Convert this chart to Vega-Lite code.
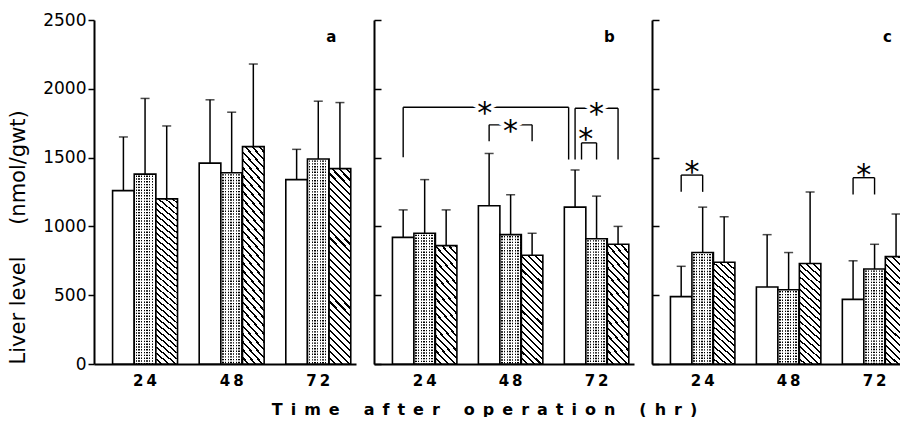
{
  "$schema": "https://vega.github.io/schema/vega-lite/v6.json",
  "background": "white",
  "padding": {"left": 7, "top": 11, "right": -12, "bottom": 0},
  "config": {"view": {"stroke": null}, "axis": {"grid": false}},
  "datasets": {
    "bars": [
      {"panel": "a", "time": 24, "group": "I", "slot": "24I", "mean": 1260, "upper": 1650},
      {"panel": "a", "time": 24, "group": "II", "slot": "24II", "mean": 1380, "upper": 1930},
      {"panel": "a", "time": 24, "group": "III", "slot": "24III", "mean": 1200, "upper": 1730},
      {"panel": "a", "time": 48, "group": "I", "slot": "48I", "mean": 1460, "upper": 1920},
      {"panel": "a", "time": 48, "group": "II", "slot": "48II", "mean": 1390, "upper": 1830},
      {"panel": "a", "time": 48, "group": "III", "slot": "48III", "mean": 1580, "upper": 2180},
      {"panel": "a", "time": 72, "group": "I", "slot": "72I", "mean": 1340, "upper": 1560},
      {"panel": "a", "time": 72, "group": "II", "slot": "72II", "mean": 1490, "upper": 1910},
      {"panel": "a", "time": 72, "group": "III", "slot": "72III", "mean": 1420, "upper": 1900},
      {"panel": "b", "time": 24, "group": "I", "slot": "24I", "mean": 920, "upper": 1120},
      {"panel": "b", "time": 24, "group": "II", "slot": "24II", "mean": 950, "upper": 1340},
      {"panel": "b", "time": 24, "group": "III", "slot": "24III", "mean": 860, "upper": 1120},
      {"panel": "b", "time": 48, "group": "I", "slot": "48I", "mean": 1150, "upper": 1530},
      {"panel": "b", "time": 48, "group": "II", "slot": "48II", "mean": 940, "upper": 1230},
      {"panel": "b", "time": 48, "group": "III", "slot": "48III", "mean": 790, "upper": 950},
      {"panel": "b", "time": 72, "group": "I", "slot": "72I", "mean": 1140, "upper": 1410},
      {"panel": "b", "time": 72, "group": "II", "slot": "72II", "mean": 910, "upper": 1220},
      {"panel": "b", "time": 72, "group": "III", "slot": "72III", "mean": 870, "upper": 1000},
      {"panel": "c", "time": 24, "group": "I", "slot": "24I", "mean": 490, "upper": 710},
      {"panel": "c", "time": 24, "group": "II", "slot": "24II", "mean": 810, "upper": 1140},
      {"panel": "c", "time": 24, "group": "III", "slot": "24III", "mean": 740, "upper": 1070},
      {"panel": "c", "time": 48, "group": "I", "slot": "48I", "mean": 560, "upper": 940},
      {"panel": "c", "time": 48, "group": "II", "slot": "48II", "mean": 540, "upper": 810},
      {"panel": "c", "time": 48, "group": "III", "slot": "48III", "mean": 730, "upper": 1250},
      {"panel": "c", "time": 72, "group": "I", "slot": "72I", "mean": 470, "upper": 750},
      {"panel": "c", "time": 72, "group": "II", "slot": "72II", "mean": 690, "upper": 870},
      {"panel": "c", "time": 72, "group": "III", "slot": "72III", "mean": 780, "upper": 1090}
    ],
    "brackets": [
      {"panel": "b", "kind": "span", "from": "24I", "to": "72I", "level": 1866, "footL": 1503, "footR": 1486, "starAt": 1866},
      {"panel": "b", "kind": "skip", "from": "48I", "to": "48III", "level": 1738, "footL": 1619, "footR": 1619, "starAt": 1738},
      {"panel": "b", "kind": "skip", "from": "72I", "to": "72III", "level": 1859, "footL": 1486, "footR": 1486, "starAt": 1859},
      {"panel": "b", "kind": "nested", "from": "72I", "to": "72II", "level": 1607, "footL": 1486, "footR": 1486, "starAt": 1680},
      {"panel": "c", "kind": "adjacent", "from": "24I", "to": "24II", "level": 1373, "footL": 1251, "footR": 1251, "starAt": 1439},
      {"panel": "c", "kind": "adjacent", "from": "72I", "to": "72II", "level": 1354, "footL": 1232, "footR": 1232, "starAt": 1414}
    ],
    "panels": [{"panel": "a"}, {"panel": "b"}, {"panel": "c"}]
  },
  "spacing": 18,
  "bounds": "flush",
  "hconcat": [
    {
      "width": 262,
      "height": 344,
      "layer": [
        {
          "data": {"name": "bars"},
          "transform": [{"filter": "datum.panel === 'a' && datum.group === 'I'"}],
          "mark": {"type": "bar", "stroke": "#000", "strokeWidth": 1.6, "fill": "#fff"},
          "encoding": {
            "x": {"field": "slot", "type": "nominal",
              "scale": {"type": "band", "domain": ["24I", "24II", "24III", "gap1", "48I", "48II", "48III", "gap2", "72I", "72II", "72III"], "paddingInner": 0, "paddingOuter": 0.55, "align": 0.78},
              "axis": {"title": null, "ticks": false, "domainColor": "#000", "domainWidth": 2, "labelAngle": 0, "labelOverlap": false,
                "labelExpr": "datum.value === '24II' ? '2\u20094' : datum.value === '48II' ? '4\u20098' : datum.value === '72II' ? '7\u20092' : ''",
                "labelFont": "DejaVu Sans", "labelFontSize": 15, "labelFontWeight": "bold", "labelColor": "#000", "labelPadding": 9}},
            "y": {"field": "mean", "type": "quantitative",
              "scale": {"domain": [0, 2500], "nice": false},
              "axis": {"values": [0, 500, 1000, 1500, 2000, 2500], "format": "d", "domainColor": "#000", "domainWidth": 2, "tickColor": "#000", "tickWidth": 1.5, "tickSize": 6,
                "labelFont": "DejaVu Sans", "labelFontSize": 17, "labelColor": "#000", "labelPadding": 2,
                "title": "Liver level\u2003\u2002(nmol/gwt)", "titleFont": "DejaVu Sans", "titleFontSize": 21, "titleFontWeight": "normal", "titleColor": "#000", "titleAnchor": "start", "titlePadding": 14}}
          }
        },
        {
          "data": {"name": "bars"},
          "transform": [{"filter": "datum.panel === 'a' && datum.group === 'II'"}],
          "mark": {"type": "bar", "strokeWidth": 0,
            "fill": {"gradient": "linear", "x1": 0, "y1": 0, "x2": 1, "y2": 0, "stops": [
              {"offset": 0, "color": "#fff"}, {"offset": 0.0625, "color": "#fff"}, {"offset": 0.0625, "color": "#000"}, {"offset": 0.125, "color": "#000"},
              {"offset": 0.125, "color": "#fff"}, {"offset": 0.1875, "color": "#fff"}, {"offset": 0.1875, "color": "#000"}, {"offset": 0.25, "color": "#000"},
              {"offset": 0.25, "color": "#fff"}, {"offset": 0.3125, "color": "#fff"}, {"offset": 0.3125, "color": "#000"}, {"offset": 0.375, "color": "#000"},
              {"offset": 0.375, "color": "#fff"}, {"offset": 0.4375, "color": "#fff"}, {"offset": 0.4375, "color": "#000"}, {"offset": 0.5, "color": "#000"},
              {"offset": 0.5, "color": "#fff"}, {"offset": 0.5625, "color": "#fff"}, {"offset": 0.5625, "color": "#000"}, {"offset": 0.625, "color": "#000"},
              {"offset": 0.625, "color": "#fff"}, {"offset": 0.6875, "color": "#fff"}, {"offset": 0.6875, "color": "#000"}, {"offset": 0.75, "color": "#000"},
              {"offset": 0.75, "color": "#fff"}, {"offset": 0.8125, "color": "#fff"}, {"offset": 0.8125, "color": "#000"}, {"offset": 0.875, "color": "#000"},
              {"offset": 0.875, "color": "#fff"}, {"offset": 0.9375, "color": "#fff"}, {"offset": 0.9375, "color": "#000"}, {"offset": 1, "color": "#000"}
            ]}},
          "encoding": {
            "x": {"field": "slot", "type": "nominal"},
            "y": {"field": "mean", "type": "quantitative"}
          }
        },
        {
          "data": {"name": "bars"},
          "transform": [{"filter": "datum.panel === 'a' && datum.group === 'II'"}],
          "mark": {"type": "rule", "stroke": "#fff", "strokeWidth": 19, "strokeDash": [1.4, 1.4]},
          "encoding": {
            "x": {"field": "slot", "type": "nominal", "bandPosition": 0.5},
            "y": {"field": "mean", "type": "quantitative"},
            "y2": {"datum": 0}
          }
        },
        {
          "data": {"name": "bars"},
          "transform": [{"filter": "datum.panel === 'a' && datum.group === 'II'"}],
          "mark": {"type": "bar", "stroke": "#000", "strokeWidth": 1.6, "fillOpacity": 0},
          "encoding": {
            "x": {"field": "slot", "type": "nominal"},
            "y": {"field": "mean", "type": "quantitative"}
          }
        },
        {
          "data": {"name": "bars"},
          "transform": [{"filter": "datum.panel === 'a' && datum.group === 'III'"}],
          "mark": {"type": "bar", "stroke": "#000", "strokeWidth": 1.6,
            "fill": {"gradient": "linear", "x1": 0, "y1": 1, "x2": 0.129, "y2": -0.15, "stops": [
              {"offset": 0, "color": "#fff"}, {"offset": 0.021875, "color": "#fff"}, {"offset": 0.021875, "color": "#000"}, {"offset": 0.03125, "color": "#000"},
              {"offset": 0.03125, "color": "#fff"}, {"offset": 0.053125, "color": "#fff"}, {"offset": 0.053125, "color": "#000"}, {"offset": 0.0625, "color": "#000"},
              {"offset": 0.0625, "color": "#fff"}, {"offset": 0.084375, "color": "#fff"}, {"offset": 0.084375, "color": "#000"}, {"offset": 0.09375, "color": "#000"},
              {"offset": 0.09375, "color": "#fff"}, {"offset": 0.115625, "color": "#fff"}, {"offset": 0.115625, "color": "#000"}, {"offset": 0.125, "color": "#000"},
              {"offset": 0.125, "color": "#fff"}, {"offset": 0.146875, "color": "#fff"}, {"offset": 0.146875, "color": "#000"}, {"offset": 0.15625, "color": "#000"},
              {"offset": 0.15625, "color": "#fff"}, {"offset": 0.178125, "color": "#fff"}, {"offset": 0.178125, "color": "#000"}, {"offset": 0.1875, "color": "#000"},
              {"offset": 0.1875, "color": "#fff"}, {"offset": 0.209375, "color": "#fff"}, {"offset": 0.209375, "color": "#000"}, {"offset": 0.21875, "color": "#000"},
              {"offset": 0.21875, "color": "#fff"}, {"offset": 0.240625, "color": "#fff"}, {"offset": 0.240625, "color": "#000"}, {"offset": 0.25, "color": "#000"},
              {"offset": 0.25, "color": "#fff"}, {"offset": 0.271875, "color": "#fff"}, {"offset": 0.271875, "color": "#000"}, {"offset": 0.28125, "color": "#000"},
              {"offset": 0.28125, "color": "#fff"}, {"offset": 0.303125, "color": "#fff"}, {"offset": 0.303125, "color": "#000"}, {"offset": 0.3125, "color": "#000"},
              {"offset": 0.3125, "color": "#fff"}, {"offset": 0.334375, "color": "#fff"}, {"offset": 0.334375, "color": "#000"}, {"offset": 0.34375, "color": "#000"},
              {"offset": 0.34375, "color": "#fff"}, {"offset": 0.365625, "color": "#fff"}, {"offset": 0.365625, "color": "#000"}, {"offset": 0.375, "color": "#000"},
              {"offset": 0.375, "color": "#fff"}, {"offset": 0.396875, "color": "#fff"}, {"offset": 0.396875, "color": "#000"}, {"offset": 0.40625, "color": "#000"},
              {"offset": 0.40625, "color": "#fff"}, {"offset": 0.428125, "color": "#fff"}, {"offset": 0.428125, "color": "#000"}, {"offset": 0.4375, "color": "#000"},
              {"offset": 0.4375, "color": "#fff"}, {"offset": 0.459375, "color": "#fff"}, {"offset": 0.459375, "color": "#000"}, {"offset": 0.46875, "color": "#000"},
              {"offset": 0.46875, "color": "#fff"}, {"offset": 0.490625, "color": "#fff"}, {"offset": 0.490625, "color": "#000"}, {"offset": 0.5, "color": "#000"},
              {"offset": 0.5, "color": "#fff"}, {"offset": 0.521875, "color": "#fff"}, {"offset": 0.521875, "color": "#000"}, {"offset": 0.53125, "color": "#000"},
              {"offset": 0.53125, "color": "#fff"}, {"offset": 0.553125, "color": "#fff"}, {"offset": 0.553125, "color": "#000"}, {"offset": 0.5625, "color": "#000"},
              {"offset": 0.5625, "color": "#fff"}, {"offset": 0.584375, "color": "#fff"}, {"offset": 0.584375, "color": "#000"}, {"offset": 0.59375, "color": "#000"},
              {"offset": 0.59375, "color": "#fff"}, {"offset": 0.615625, "color": "#fff"}, {"offset": 0.615625, "color": "#000"}, {"offset": 0.625, "color": "#000"},
              {"offset": 0.625, "color": "#fff"}, {"offset": 0.646875, "color": "#fff"}, {"offset": 0.646875, "color": "#000"}, {"offset": 0.65625, "color": "#000"},
              {"offset": 0.65625, "color": "#fff"}, {"offset": 0.678125, "color": "#fff"}, {"offset": 0.678125, "color": "#000"}, {"offset": 0.6875, "color": "#000"},
              {"offset": 0.6875, "color": "#fff"}, {"offset": 0.709375, "color": "#fff"}, {"offset": 0.709375, "color": "#000"}, {"offset": 0.71875, "color": "#000"},
              {"offset": 0.71875, "color": "#fff"}, {"offset": 0.740625, "color": "#fff"}, {"offset": 0.740625, "color": "#000"}, {"offset": 0.75, "color": "#000"},
              {"offset": 0.75, "color": "#fff"}, {"offset": 0.771875, "color": "#fff"}, {"offset": 0.771875, "color": "#000"}, {"offset": 0.78125, "color": "#000"},
              {"offset": 0.78125, "color": "#fff"}, {"offset": 0.803125, "color": "#fff"}, {"offset": 0.803125, "color": "#000"}, {"offset": 0.8125, "color": "#000"},
              {"offset": 0.8125, "color": "#fff"}, {"offset": 0.834375, "color": "#fff"}, {"offset": 0.834375, "color": "#000"}, {"offset": 0.84375, "color": "#000"},
              {"offset": 0.84375, "color": "#fff"}, {"offset": 0.865625, "color": "#fff"}, {"offset": 0.865625, "color": "#000"}, {"offset": 0.875, "color": "#000"},
              {"offset": 0.875, "color": "#fff"}, {"offset": 0.896875, "color": "#fff"}, {"offset": 0.896875, "color": "#000"}, {"offset": 0.90625, "color": "#000"},
              {"offset": 0.90625, "color": "#fff"}, {"offset": 0.928125, "color": "#fff"}, {"offset": 0.928125, "color": "#000"}, {"offset": 0.9375, "color": "#000"},
              {"offset": 0.9375, "color": "#fff"}, {"offset": 0.959375, "color": "#fff"}, {"offset": 0.959375, "color": "#000"}, {"offset": 0.96875, "color": "#000"},
              {"offset": 0.96875, "color": "#fff"}, {"offset": 0.990625, "color": "#fff"}, {"offset": 0.990625, "color": "#000"}, {"offset": 1, "color": "#000"}
            ]}},
          "encoding": {
            "x": {"field": "slot", "type": "nominal"},
            "y": {"field": "mean", "type": "quantitative"}
          }
        },
        {
          "data": {"name": "bars"},
          "transform": [{"filter": "datum.panel === 'a'"}],
          "mark": {"type": "rule", "stroke": "#000", "strokeWidth": 1.5},
          "encoding": {
            "x": {"field": "slot", "type": "nominal", "bandPosition": 0.5},
            "y": {"field": "mean", "type": "quantitative"},
            "y2": {"field": "upper"}
          }
        },
        {
          "data": {"name": "bars"},
          "transform": [{"filter": "datum.panel === 'a'"}],
          "mark": {"type": "tick", "orient": "horizontal", "color": "#000", "size": 9, "thickness": 1.5},
          "encoding": {
            "x": {"field": "slot", "type": "nominal"},
            "y": {"field": "upper", "type": "quantitative"}
          }
        },
        {
          "data": {"name": "panels"},
          "transform": [{"filter": "datum.panel === 'a'"}],
          "mark": {"type": "text", "font": "DejaVu Sans", "fontSize": 15, "fontWeight": "bold", "color": "#000", "baseline": "middle"},
          "encoding": {
            "x": {"datum": "72III", "type": "nominal", "bandPosition": 0.1},
            "y": {"datum": 2376, "type": "quantitative"},
            "text": {"field": "panel"}
          }
        }
      ]
    },
    {
      "width": 260,
      "height": 344,
      "layer": [
        {
          "data": {"name": "bars"},
          "transform": [{"filter": "datum.panel === 'b' && datum.group === 'I'"}],
          "mark": {"type": "bar", "stroke": "#000", "strokeWidth": 1.6, "fill": "#fff"},
          "encoding": {
            "x": {"field": "slot", "type": "nominal",
              "scale": {"type": "band", "domain": ["24I", "24II", "24III", "gap1", "48I", "48II", "48III", "gap2", "72I", "72II", "72III"], "paddingInner": 0, "paddingOuter": 0.55, "align": 0.78},
              "axis": {"ticks": false, "domainColor": "#000", "domainWidth": 2, "labelAngle": 0, "labelOverlap": false,
                "labelExpr": "datum.value === '24II' ? '2\u20094' : datum.value === '48II' ? '4\u20098' : datum.value === '72II' ? '7\u20092' : ''",
                "labelFont": "DejaVu Sans", "labelFontSize": 15, "labelFontWeight": "bold", "labelColor": "#000", "labelPadding": 9,
                "title": "T\u2002i\u2002m\u2002e\u2003\u2002a\u2002f\u2002t\u2002e\u2002r\u2003\u2002o\u2002p\u2002e\u2002r\u2002a\u2002t\u2002i\u2002o\u2002n\u2003\u2002(\u2002h\u2002r\u2002)",
                "titleFont": "DejaVu Sans", "titleFontSize": 16, "titleFontWeight": "bold", "titleColor": "#000",
                "titleX": 110, "titleY": 45, "titleAlign": "center", "titleBaseline": "middle"}},
            "y": {"field": "mean", "type": "quantitative",
              "scale": {"domain": [0, 2500], "nice": false},
              "axis": {"values": [0, 500, 1000, 1500, 2000, 2500], "labels": false, "title": null, "domainColor": "#000", "domainWidth": 2, "tickColor": "#000", "tickWidth": 1.5, "tickSize": -7}}
          }
        },
        {
          "data": {"name": "bars"},
          "transform": [{"filter": "datum.panel === 'b' && datum.group === 'II'"}],
          "mark": {"type": "bar", "strokeWidth": 0,
            "fill": {"gradient": "linear", "x1": 0, "y1": 0, "x2": 1, "y2": 0, "stops": [
              {"offset": 0, "color": "#fff"}, {"offset": 0.0625, "color": "#fff"}, {"offset": 0.0625, "color": "#000"}, {"offset": 0.125, "color": "#000"},
              {"offset": 0.125, "color": "#fff"}, {"offset": 0.1875, "color": "#fff"}, {"offset": 0.1875, "color": "#000"}, {"offset": 0.25, "color": "#000"},
              {"offset": 0.25, "color": "#fff"}, {"offset": 0.3125, "color": "#fff"}, {"offset": 0.3125, "color": "#000"}, {"offset": 0.375, "color": "#000"},
              {"offset": 0.375, "color": "#fff"}, {"offset": 0.4375, "color": "#fff"}, {"offset": 0.4375, "color": "#000"}, {"offset": 0.5, "color": "#000"},
              {"offset": 0.5, "color": "#fff"}, {"offset": 0.5625, "color": "#fff"}, {"offset": 0.5625, "color": "#000"}, {"offset": 0.625, "color": "#000"},
              {"offset": 0.625, "color": "#fff"}, {"offset": 0.6875, "color": "#fff"}, {"offset": 0.6875, "color": "#000"}, {"offset": 0.75, "color": "#000"},
              {"offset": 0.75, "color": "#fff"}, {"offset": 0.8125, "color": "#fff"}, {"offset": 0.8125, "color": "#000"}, {"offset": 0.875, "color": "#000"},
              {"offset": 0.875, "color": "#fff"}, {"offset": 0.9375, "color": "#fff"}, {"offset": 0.9375, "color": "#000"}, {"offset": 1, "color": "#000"}
            ]}},
          "encoding": {
            "x": {"field": "slot", "type": "nominal"},
            "y": {"field": "mean", "type": "quantitative"}
          }
        },
        {
          "data": {"name": "bars"},
          "transform": [{"filter": "datum.panel === 'b' && datum.group === 'II'"}],
          "mark": {"type": "rule", "stroke": "#fff", "strokeWidth": 19, "strokeDash": [1.4, 1.4]},
          "encoding": {
            "x": {"field": "slot", "type": "nominal", "bandPosition": 0.5},
            "y": {"field": "mean", "type": "quantitative"},
            "y2": {"datum": 0}
          }
        },
        {
          "data": {"name": "bars"},
          "transform": [{"filter": "datum.panel === 'b' && datum.group === 'II'"}],
          "mark": {"type": "bar", "stroke": "#000", "strokeWidth": 1.6, "fillOpacity": 0},
          "encoding": {
            "x": {"field": "slot", "type": "nominal"},
            "y": {"field": "mean", "type": "quantitative"}
          }
        },
        {
          "data": {"name": "bars"},
          "transform": [{"filter": "datum.panel === 'b' && datum.group === 'III'"}],
          "mark": {"type": "bar", "stroke": "#000", "strokeWidth": 1.6,
            "fill": {"gradient": "linear", "x1": 0, "y1": 1, "x2": 0.225, "y2": -0.15, "stops": [
              {"offset": 0, "color": "#fff"}, {"offset": 0.03684, "color": "#fff"}, {"offset": 0.03684, "color": "#000"}, {"offset": 0.05263, "color": "#000"},
              {"offset": 0.05263, "color": "#fff"}, {"offset": 0.08947, "color": "#fff"}, {"offset": 0.08947, "color": "#000"}, {"offset": 0.10526, "color": "#000"},
              {"offset": 0.10526, "color": "#fff"}, {"offset": 0.14211, "color": "#fff"}, {"offset": 0.14211, "color": "#000"}, {"offset": 0.15789, "color": "#000"},
              {"offset": 0.15789, "color": "#fff"}, {"offset": 0.19474, "color": "#fff"}, {"offset": 0.19474, "color": "#000"}, {"offset": 0.21053, "color": "#000"},
              {"offset": 0.21053, "color": "#fff"}, {"offset": 0.24737, "color": "#fff"}, {"offset": 0.24737, "color": "#000"}, {"offset": 0.26316, "color": "#000"},
              {"offset": 0.26316, "color": "#fff"}, {"offset": 0.3, "color": "#fff"}, {"offset": 0.3, "color": "#000"}, {"offset": 0.31579, "color": "#000"},
              {"offset": 0.31579, "color": "#fff"}, {"offset": 0.35263, "color": "#fff"}, {"offset": 0.35263, "color": "#000"}, {"offset": 0.36842, "color": "#000"},
              {"offset": 0.36842, "color": "#fff"}, {"offset": 0.40526, "color": "#fff"}, {"offset": 0.40526, "color": "#000"}, {"offset": 0.42105, "color": "#000"},
              {"offset": 0.42105, "color": "#fff"}, {"offset": 0.45789, "color": "#fff"}, {"offset": 0.45789, "color": "#000"}, {"offset": 0.47368, "color": "#000"},
              {"offset": 0.47368, "color": "#fff"}, {"offset": 0.51053, "color": "#fff"}, {"offset": 0.51053, "color": "#000"}, {"offset": 0.52632, "color": "#000"},
              {"offset": 0.52632, "color": "#fff"}, {"offset": 0.56316, "color": "#fff"}, {"offset": 0.56316, "color": "#000"}, {"offset": 0.57895, "color": "#000"},
              {"offset": 0.57895, "color": "#fff"}, {"offset": 0.61579, "color": "#fff"}, {"offset": 0.61579, "color": "#000"}, {"offset": 0.63158, "color": "#000"},
              {"offset": 0.63158, "color": "#fff"}, {"offset": 0.66842, "color": "#fff"}, {"offset": 0.66842, "color": "#000"}, {"offset": 0.68421, "color": "#000"},
              {"offset": 0.68421, "color": "#fff"}, {"offset": 0.72105, "color": "#fff"}, {"offset": 0.72105, "color": "#000"}, {"offset": 0.73684, "color": "#000"},
              {"offset": 0.73684, "color": "#fff"}, {"offset": 0.77368, "color": "#fff"}, {"offset": 0.77368, "color": "#000"}, {"offset": 0.78947, "color": "#000"},
              {"offset": 0.78947, "color": "#fff"}, {"offset": 0.82632, "color": "#fff"}, {"offset": 0.82632, "color": "#000"}, {"offset": 0.84211, "color": "#000"},
              {"offset": 0.84211, "color": "#fff"}, {"offset": 0.87895, "color": "#fff"}, {"offset": 0.87895, "color": "#000"}, {"offset": 0.89474, "color": "#000"},
              {"offset": 0.89474, "color": "#fff"}, {"offset": 0.93158, "color": "#fff"}, {"offset": 0.93158, "color": "#000"}, {"offset": 0.94737, "color": "#000"},
              {"offset": 0.94737, "color": "#fff"}, {"offset": 0.98421, "color": "#fff"}, {"offset": 0.98421, "color": "#000"}, {"offset": 1, "color": "#000"}
            ]}},
          "encoding": {
            "x": {"field": "slot", "type": "nominal"},
            "y": {"field": "mean", "type": "quantitative"}
          }
        },
        {
          "data": {"name": "bars"},
          "transform": [{"filter": "datum.panel === 'b'"}],
          "mark": {"type": "rule", "stroke": "#000", "strokeWidth": 1.5},
          "encoding": {
            "x": {"field": "slot", "type": "nominal", "bandPosition": 0.5},
            "y": {"field": "mean", "type": "quantitative"},
            "y2": {"field": "upper"}
          }
        },
        {
          "data": {"name": "bars"},
          "transform": [{"filter": "datum.panel === 'b'"}],
          "mark": {"type": "tick", "orient": "horizontal", "color": "#000", "size": 9, "thickness": 1.5},
          "encoding": {
            "x": {"field": "slot", "type": "nominal"},
            "y": {"field": "upper", "type": "quantitative"}
          }
        },
        {
          "data": {"name": "brackets"},
          "transform": [{"filter": "datum.panel === 'b' && datum.kind === 'skip'"}],
          "mark": {"type": "rule", "stroke": "#000", "strokeWidth": 1.4},
          "encoding": {
            "x": {"field": "from", "type": "nominal", "bandPosition": 0.5},
            "x2": {"field": "to", "bandPosition": 0.5},
            "y": {"field": "level", "type": "quantitative"}
          }
        },
        {
          "data": {"name": "brackets"},
          "transform": [{"filter": "datum.panel === 'b' && datum.kind === 'span'"}],
          "mark": {"type": "rule", "stroke": "#000", "strokeWidth": 1.4},
          "encoding": {
            "x": {"field": "from", "type": "nominal", "bandPosition": 0.5},
            "x2": {"field": "to", "bandPosition": 0.2},
            "y": {"field": "level", "type": "quantitative"}
          }
        },
        {
          "data": {"name": "brackets"},
          "transform": [{"filter": "datum.panel === 'b' && datum.kind === 'nested'"}],
          "mark": {"type": "rule", "stroke": "#000", "strokeWidth": 1.4},
          "encoding": {
            "x": {"field": "from", "type": "nominal", "bandPosition": 0.8},
            "x2": {"field": "to", "bandPosition": 0.5},
            "y": {"field": "level", "type": "quantitative"}
          }
        },
        {
          "data": {"name": "brackets"},
          "transform": [{"filter": "datum.panel === 'b' && datum.kind !== 'nested'"}],
          "mark": {"type": "rule", "stroke": "#000", "strokeWidth": 1.4},
          "encoding": {
            "x": {"field": "from", "type": "nominal", "bandPosition": 0.5},
            "y": {"field": "level", "type": "quantitative"},
            "y2": {"field": "footL"}
          }
        },
        {
          "data": {"name": "brackets"},
          "transform": [{"filter": "datum.panel === 'b' && datum.kind === 'nested'"}],
          "mark": {"type": "rule", "stroke": "#000", "strokeWidth": 1.4},
          "encoding": {
            "x": {"field": "from", "type": "nominal", "bandPosition": 0.8},
            "y": {"field": "level", "type": "quantitative"},
            "y2": {"field": "footL"}
          }
        },
        {
          "data": {"name": "brackets"},
          "transform": [{"filter": "datum.panel === 'b' && datum.kind !== 'span'"}],
          "mark": {"type": "rule", "stroke": "#000", "strokeWidth": 1.4},
          "encoding": {
            "x": {"field": "to", "type": "nominal", "bandPosition": 0.5},
            "y": {"field": "level", "type": "quantitative"},
            "y2": {"field": "footR"}
          }
        },
        {
          "data": {"name": "brackets"},
          "transform": [{"filter": "datum.panel === 'b' && datum.kind === 'span'"}],
          "mark": {"type": "rule", "stroke": "#000", "strokeWidth": 1.4},
          "encoding": {
            "x": {"field": "to", "type": "nominal", "bandPosition": 0.2},
            "y": {"field": "level", "type": "quantitative"},
            "y2": {"field": "footR"}
          }
        },
        {
          "data": {"name": "brackets"},
          "transform": [{"filter": "datum.panel === 'b' && datum.kind === 'skip'"}],
          "mark": {"type": "text", "text": "*", "font": "DejaVu Sans", "fontSize": 30, "baseline": "alphabetic", "dy": 16, "fill": "#fff", "stroke": "#fff", "strokeWidth": 7},
          "encoding": {
            "x": {"field": "from", "type": "nominal", "bandPosition": 1.5},
            "y": {"field": "starAt", "type": "quantitative"}
          }
        },
        {
          "data": {"name": "brackets"},
          "transform": [{"filter": "datum.panel === 'b' && datum.kind === 'span'"}],
          "mark": {"type": "text", "text": "*", "font": "DejaVu Sans", "fontSize": 30, "baseline": "alphabetic", "dy": 16, "fill": "#fff", "stroke": "#fff", "strokeWidth": 7},
          "encoding": {
            "x": {"field": "from", "type": "nominal", "bandPosition": 4.3},
            "y": {"field": "starAt", "type": "quantitative"}
          }
        },
        {
          "data": {"name": "brackets"},
          "transform": [{"filter": "datum.panel === 'b' && datum.kind === 'skip'"}],
          "mark": {"type": "text", "text": "*", "font": "DejaVu Sans", "fontSize": 30, "baseline": "alphabetic", "dy": 16, "color": "#000"},
          "encoding": {
            "x": {"field": "from", "type": "nominal", "bandPosition": 1.5},
            "y": {"field": "starAt", "type": "quantitative"}
          }
        },
        {
          "data": {"name": "brackets"},
          "transform": [{"filter": "datum.panel === 'b' && datum.kind === 'span'"}],
          "mark": {"type": "text", "text": "*", "font": "DejaVu Sans", "fontSize": 30, "baseline": "alphabetic", "dy": 16, "color": "#000"},
          "encoding": {
            "x": {"field": "from", "type": "nominal", "bandPosition": 4.3},
            "y": {"field": "starAt", "type": "quantitative"}
          }
        },
        {
          "data": {"name": "brackets"},
          "transform": [{"filter": "datum.panel === 'b' && datum.kind === 'nested'"}],
          "mark": {"type": "text", "text": "*", "font": "DejaVu Sans", "fontSize": 30, "baseline": "alphabetic", "dy": 16, "color": "#000"},
          "encoding": {
            "x": {"field": "from", "type": "nominal", "bandPosition": 1.0},
            "y": {"field": "starAt", "type": "quantitative"}
          }
        },
        {
          "data": {"name": "panels"},
          "transform": [{"filter": "datum.panel === 'b'"}],
          "mark": {"type": "text", "font": "DejaVu Sans", "fontSize": 15, "fontWeight": "bold", "color": "#000", "baseline": "middle"},
          "encoding": {
            "x": {"datum": "72III", "type": "nominal", "bandPosition": 0.1},
            "y": {"datum": 2376, "type": "quantitative"},
            "text": {"field": "panel"}
          }
        }
      ]
    },
    {
      "width": 260,
      "height": 344,
      "layer": [
        {
          "data": {"name": "bars"},
          "transform": [{"filter": "datum.panel === 'c' && datum.group === 'I'"}],
          "mark": {"type": "bar", "stroke": "#000", "strokeWidth": 1.6, "fill": "#fff"},
          "encoding": {
            "x": {"field": "slot", "type": "nominal",
              "scale": {"type": "band", "domain": ["24I", "24II", "24III", "gap1", "48I", "48II", "48III", "gap2", "72I", "72II", "72III"], "paddingInner": 0, "paddingOuter": 0.55, "align": 0.78},
              "axis": {"title": null, "ticks": false, "domainColor": "#000", "domainWidth": 2, "labelAngle": 0, "labelOverlap": false,
                "labelExpr": "datum.value === '24II' ? '2\u20094' : datum.value === '48II' ? '4\u20098' : datum.value === '72II' ? '7\u20092' : ''",
                "labelFont": "DejaVu Sans", "labelFontSize": 15, "labelFontWeight": "bold", "labelColor": "#000", "labelPadding": 9}},
            "y": {"field": "mean", "type": "quantitative",
              "scale": {"domain": [0, 2500], "nice": false},
              "axis": {"values": [0, 500, 1000, 1500, 2000, 2500], "labels": false, "title": null, "domainColor": "#000", "domainWidth": 2, "tickColor": "#000", "tickWidth": 1.5, "tickSize": -7}}
          }
        },
        {
          "data": {"name": "bars"},
          "transform": [{"filter": "datum.panel === 'c' && datum.group === 'II'"}],
          "mark": {"type": "bar", "strokeWidth": 0,
            "fill": {"gradient": "linear", "x1": 0, "y1": 0, "x2": 1, "y2": 0, "stops": [
              {"offset": 0, "color": "#fff"}, {"offset": 0.0625, "color": "#fff"}, {"offset": 0.0625, "color": "#000"}, {"offset": 0.125, "color": "#000"},
              {"offset": 0.125, "color": "#fff"}, {"offset": 0.1875, "color": "#fff"}, {"offset": 0.1875, "color": "#000"}, {"offset": 0.25, "color": "#000"},
              {"offset": 0.25, "color": "#fff"}, {"offset": 0.3125, "color": "#fff"}, {"offset": 0.3125, "color": "#000"}, {"offset": 0.375, "color": "#000"},
              {"offset": 0.375, "color": "#fff"}, {"offset": 0.4375, "color": "#fff"}, {"offset": 0.4375, "color": "#000"}, {"offset": 0.5, "color": "#000"},
              {"offset": 0.5, "color": "#fff"}, {"offset": 0.5625, "color": "#fff"}, {"offset": 0.5625, "color": "#000"}, {"offset": 0.625, "color": "#000"},
              {"offset": 0.625, "color": "#fff"}, {"offset": 0.6875, "color": "#fff"}, {"offset": 0.6875, "color": "#000"}, {"offset": 0.75, "color": "#000"},
              {"offset": 0.75, "color": "#fff"}, {"offset": 0.8125, "color": "#fff"}, {"offset": 0.8125, "color": "#000"}, {"offset": 0.875, "color": "#000"},
              {"offset": 0.875, "color": "#fff"}, {"offset": 0.9375, "color": "#fff"}, {"offset": 0.9375, "color": "#000"}, {"offset": 1, "color": "#000"}
            ]}},
          "encoding": {
            "x": {"field": "slot", "type": "nominal"},
            "y": {"field": "mean", "type": "quantitative"}
          }
        },
        {
          "data": {"name": "bars"},
          "transform": [{"filter": "datum.panel === 'c' && datum.group === 'II'"}],
          "mark": {"type": "rule", "stroke": "#fff", "strokeWidth": 19, "strokeDash": [1.4, 1.4]},
          "encoding": {
            "x": {"field": "slot", "type": "nominal", "bandPosition": 0.5},
            "y": {"field": "mean", "type": "quantitative"},
            "y2": {"datum": 0}
          }
        },
        {
          "data": {"name": "bars"},
          "transform": [{"filter": "datum.panel === 'c' && datum.group === 'II'"}],
          "mark": {"type": "bar", "stroke": "#000", "strokeWidth": 1.6, "fillOpacity": 0},
          "encoding": {
            "x": {"field": "slot", "type": "nominal"},
            "y": {"field": "mean", "type": "quantitative"}
          }
        },
        {
          "data": {"name": "bars"},
          "transform": [{"filter": "datum.panel === 'c' && datum.group === 'III'"}],
          "mark": {"type": "bar", "stroke": "#000", "strokeWidth": 1.6,
            "fill": {"gradient": "linear", "x1": 0, "y1": 1, "x2": 0.225, "y2": -0.15, "stops": [
              {"offset": 0, "color": "#fff"}, {"offset": 0.03684, "color": "#fff"}, {"offset": 0.03684, "color": "#000"}, {"offset": 0.05263, "color": "#000"},
              {"offset": 0.05263, "color": "#fff"}, {"offset": 0.08947, "color": "#fff"}, {"offset": 0.08947, "color": "#000"}, {"offset": 0.10526, "color": "#000"},
              {"offset": 0.10526, "color": "#fff"}, {"offset": 0.14211, "color": "#fff"}, {"offset": 0.14211, "color": "#000"}, {"offset": 0.15789, "color": "#000"},
              {"offset": 0.15789, "color": "#fff"}, {"offset": 0.19474, "color": "#fff"}, {"offset": 0.19474, "color": "#000"}, {"offset": 0.21053, "color": "#000"},
              {"offset": 0.21053, "color": "#fff"}, {"offset": 0.24737, "color": "#fff"}, {"offset": 0.24737, "color": "#000"}, {"offset": 0.26316, "color": "#000"},
              {"offset": 0.26316, "color": "#fff"}, {"offset": 0.3, "color": "#fff"}, {"offset": 0.3, "color": "#000"}, {"offset": 0.31579, "color": "#000"},
              {"offset": 0.31579, "color": "#fff"}, {"offset": 0.35263, "color": "#fff"}, {"offset": 0.35263, "color": "#000"}, {"offset": 0.36842, "color": "#000"},
              {"offset": 0.36842, "color": "#fff"}, {"offset": 0.40526, "color": "#fff"}, {"offset": 0.40526, "color": "#000"}, {"offset": 0.42105, "color": "#000"},
              {"offset": 0.42105, "color": "#fff"}, {"offset": 0.45789, "color": "#fff"}, {"offset": 0.45789, "color": "#000"}, {"offset": 0.47368, "color": "#000"},
              {"offset": 0.47368, "color": "#fff"}, {"offset": 0.51053, "color": "#fff"}, {"offset": 0.51053, "color": "#000"}, {"offset": 0.52632, "color": "#000"},
              {"offset": 0.52632, "color": "#fff"}, {"offset": 0.56316, "color": "#fff"}, {"offset": 0.56316, "color": "#000"}, {"offset": 0.57895, "color": "#000"},
              {"offset": 0.57895, "color": "#fff"}, {"offset": 0.61579, "color": "#fff"}, {"offset": 0.61579, "color": "#000"}, {"offset": 0.63158, "color": "#000"},
              {"offset": 0.63158, "color": "#fff"}, {"offset": 0.66842, "color": "#fff"}, {"offset": 0.66842, "color": "#000"}, {"offset": 0.68421, "color": "#000"},
              {"offset": 0.68421, "color": "#fff"}, {"offset": 0.72105, "color": "#fff"}, {"offset": 0.72105, "color": "#000"}, {"offset": 0.73684, "color": "#000"},
              {"offset": 0.73684, "color": "#fff"}, {"offset": 0.77368, "color": "#fff"}, {"offset": 0.77368, "color": "#000"}, {"offset": 0.78947, "color": "#000"},
              {"offset": 0.78947, "color": "#fff"}, {"offset": 0.82632, "color": "#fff"}, {"offset": 0.82632, "color": "#000"}, {"offset": 0.84211, "color": "#000"},
              {"offset": 0.84211, "color": "#fff"}, {"offset": 0.87895, "color": "#fff"}, {"offset": 0.87895, "color": "#000"}, {"offset": 0.89474, "color": "#000"},
              {"offset": 0.89474, "color": "#fff"}, {"offset": 0.93158, "color": "#fff"}, {"offset": 0.93158, "color": "#000"}, {"offset": 0.94737, "color": "#000"},
              {"offset": 0.94737, "color": "#fff"}, {"offset": 0.98421, "color": "#fff"}, {"offset": 0.98421, "color": "#000"}, {"offset": 1, "color": "#000"}
            ]}},
          "encoding": {
            "x": {"field": "slot", "type": "nominal"},
            "y": {"field": "mean", "type": "quantitative"}
          }
        },
        {
          "data": {"name": "bars"},
          "transform": [{"filter": "datum.panel === 'c'"}],
          "mark": {"type": "rule", "stroke": "#000", "strokeWidth": 1.5},
          "encoding": {
            "x": {"field": "slot", "type": "nominal", "bandPosition": 0.5},
            "y": {"field": "mean", "type": "quantitative"},
            "y2": {"field": "upper"}
          }
        },
        {
          "data": {"name": "bars"},
          "transform": [{"filter": "datum.panel === 'c'"}],
          "mark": {"type": "tick", "orient": "horizontal", "color": "#000", "size": 9, "thickness": 1.5},
          "encoding": {
            "x": {"field": "slot", "type": "nominal"},
            "y": {"field": "upper", "type": "quantitative"}
          }
        },
        {
          "data": {"name": "brackets"},
          "transform": [{"filter": "datum.panel === 'c'"}],
          "mark": {"type": "rule", "stroke": "#000", "strokeWidth": 1.4},
          "encoding": {
            "x": {"field": "from", "type": "nominal", "bandPosition": 0.5},
            "x2": {"field": "to", "bandPosition": 0.5},
            "y": {"field": "level", "type": "quantitative"}
          }
        },
        {
          "data": {"name": "brackets"},
          "transform": [{"filter": "datum.panel === 'c'"}],
          "mark": {"type": "rule", "stroke": "#000", "strokeWidth": 1.4},
          "encoding": {
            "x": {"field": "from", "type": "nominal", "bandPosition": 0.5},
            "y": {"field": "level", "type": "quantitative"},
            "y2": {"field": "footL"}
          }
        },
        {
          "data": {"name": "brackets"},
          "transform": [{"filter": "datum.panel === 'c'"}],
          "mark": {"type": "rule", "stroke": "#000", "strokeWidth": 1.4},
          "encoding": {
            "x": {"field": "to", "type": "nominal", "bandPosition": 0.5},
            "y": {"field": "level", "type": "quantitative"},
            "y2": {"field": "footR"}
          }
        },
        {
          "data": {"name": "brackets"},
          "transform": [{"filter": "datum.panel === 'c'"}],
          "mark": {"type": "text", "text": "*", "font": "DejaVu Sans", "fontSize": 30, "baseline": "alphabetic", "dy": 16, "color": "#000"},
          "encoding": {
            "x": {"field": "from", "type": "nominal", "bandPosition": 1.0},
            "y": {"field": "starAt", "type": "quantitative"}
          }
        },
        {
          "data": {"name": "panels"},
          "transform": [{"filter": "datum.panel === 'c'"}],
          "mark": {"type": "text", "font": "DejaVu Sans", "fontSize": 15, "fontWeight": "bold", "color": "#000", "baseline": "middle"},
          "encoding": {
            "x": {"datum": "72III", "type": "nominal", "bandPosition": 0.1},
            "y": {"datum": 2376, "type": "quantitative"},
            "text": {"field": "panel"}
          }
        }
      ]
    }
  ]
}
